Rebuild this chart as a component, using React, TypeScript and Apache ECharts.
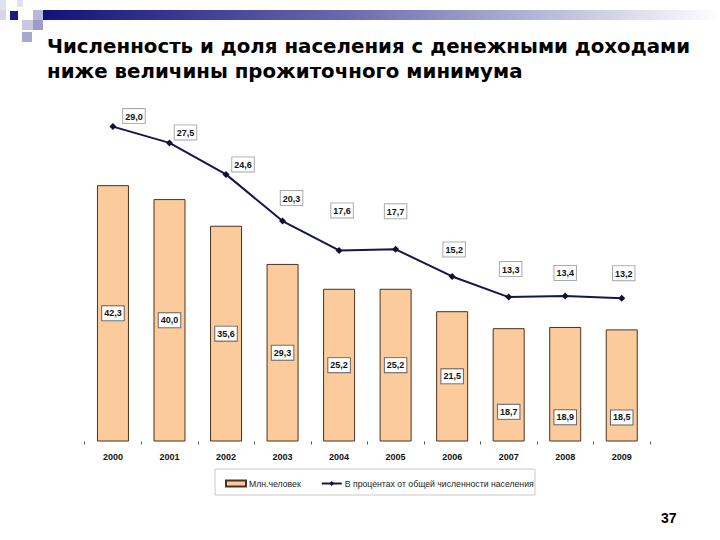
import React, { useEffect, useRef } from "react";
import * as echarts from "echarts";

const years = ["2000", "2001", "2002", "2003", "2004", "2005", "2006", "2007", "2008", "2009"];
const millions = [42.3, 40.0, 35.6, 29.3, 25.2, 25.2, 21.5, 18.7, 18.9, 18.5];
const percents = [29.0, 27.5, 24.6, 20.3, 17.6, 17.7, 15.2, 13.3, 13.4, 13.2];

const barLabelOffsets = [[0, 0], [0, 0], [0, 0], [0, 0], [0, 0], [0, 0], [0, 0], [0, 27], [0, 33], [0, 32]];
const lineLabelOffsets = [[21, 5], [16, 5], [17, 5.5], [9, -7.5], [3, -24.5], [0, -22.5], [2, -11.5], [2, -12.5], [0, -7.5], [2, -9.5]];

const fmt = (v: number) => v.toFixed(1).replace(".", ",");

export default function App() {
  const ref = useRef<HTMLDivElement>(null);
  useEffect(() => {
    if (!ref.current) return;
    const chart = echarts.init(ref.current, null, { renderer: "svg" });
    const labelFont = { fontFamily: "Liberation Sans", fontWeight: "bold" as const, fontSize: 9, color: "#111" };
    chart.setOption({
      animation: false,
      backgroundColor: "#ffffff",
      grid: { left: 84.7, right: 70, top: 100, bottom: 98.5, containLabel: false },
      xAxis: {
        type: "category",
        data: years,
        axisLine: { show: false },
        axisTick: { show: true, length: 3, lineStyle: { color: "#555" } },
        axisLabel: { ...labelFont, margin: 11 },
      },
      yAxis: [
        { type: "value", min: 0, max: 56.35, show: false, splitLine: { show: false } },
        { type: "value", min: 0, max: 31.45, show: false, splitLine: { show: false } },
      ],
      legend: {
        left: 225,
        top: 479,
        padding: 0,
        itemGap: 20,
        itemWidth: 20,
        itemHeight: 6,
        textStyle: { fontFamily: "Liberation Sans", fontSize: 8.7, color: "#222", padding: [0, 0, 0, -2] },
        data: [
          { name: "Млн.человек", icon: "rect" },
          { name: "В процентах от общей численности населения" },
        ],
      },
      series: [
        {
          name: "Млн.человек",
          type: "bar",
          yAxisIndex: 0,
          barWidth: 32,
          itemStyle: { color: "#FBCB9B", borderColor: "#4a3322", borderWidth: 1 },
          data: millions.map((v, i) => ({
            value: v,
            label: { offset: barLabelOffsets[i] },
          })),
          label: {
            show: true,
            position: "inside",
            formatter: (p: any) => fmt(p.value),
            ...labelFont,
            backgroundColor: "#ffffff",
            borderColor: "#666",
            borderWidth: 1,
            padding: [3, 2, 2, 2],
          },
        },
        {
          name: "В процентах от общей численности населения",
          type: "line",
          yAxisIndex: 1,
          symbol: "diamond",
          symbolSize: 7,
          lineStyle: { color: "#16164f", width: 2 },
          itemStyle: { color: "#111133" },
          data: percents.map((v, i) => ({
            value: v,
            label: { offset: lineLabelOffsets[i] },
          })),
          label: {
            show: true,
            position: "top",
            formatter: (p: any) => fmt(p.value),
            ...labelFont,
            backgroundColor: "#ffffff",
            borderColor: "#aaa",
            borderWidth: 1,
            padding: [3, 2, 2, 2],
          },
        },
      ],
      graphic: [
        {
          type: "rect",
          shape: { x: 43, y: 10, width: 677, height: 10 },
          style: {
            fill: new echarts.graphic.LinearGradient(0, 0, 1, 0, [
              { offset: 0, color: "#12127a" },
              { offset: 0.45, color: "#6a6aae" },
              { offset: 1, color: "#ffffff" },
            ]),
          },
        },
        { type: "rect", shape: { x: 0, y: 0, width: 6, height: 10 }, style: { fill: "#e2e2ee" } },
        { type: "rect", shape: { x: 17, y: 0, width: 6, height: 7 }, style: { fill: "#e2e2ee" } },
        { type: "rect", shape: { x: 0, y: 10, width: 6, height: 10 }, style: { fill: "#d6d6e8" } },
        { type: "rect", shape: { x: 10, y: 11, width: 8, height: 9 }, style: { fill: "#1a1a80" } },
        { type: "rect", shape: { x: 33, y: 10, width: 10, height: 10 }, style: { fill: "#b8b8d8" } },
        { type: "rect", shape: { x: 22, y: 20, width: 11, height: 10 }, style: { fill: "#c8c8e0" } },
        { type: "rect", shape: { x: 33, y: 20, width: 10, height: 10 }, style: { fill: "#9c9cc8" } },
        { type: "rect", shape: { x: 22, y: 32, width: 10, height: 10 }, style: { fill: "#a8a8c8" } },
        {
          type: "text",
          left: 47,
          top: 34,
          style: {
            text: "Численность и доля населения с денежными доходами\nниже величины прожиточного минимума",
            fontFamily: "DejaVu Sans",
            fontWeight: "bold",
            fontSize: 19.8,
            lineHeight: 25,
            fill: "#000",
          },
        },
        {
          type: "rect",
          shape: { x: 215, y: 469, width: 320, height: 26 },
          style: { fill: "none", stroke: "#c8c8c8", lineWidth: 1 },
        },
        {
          type: "text",
          left: 661,
          top: 511,
          style: { text: "37", fontFamily: "Liberation Sans", fontWeight: "bold", fontSize: 14, fill: "#000" },
        },
      ],
    });
    return () => chart.dispose();
  }, []);
  return <div ref={ref} style={{ position: "fixed", left: 0, top: 0, width: 720, height: 540 }} />;
}
